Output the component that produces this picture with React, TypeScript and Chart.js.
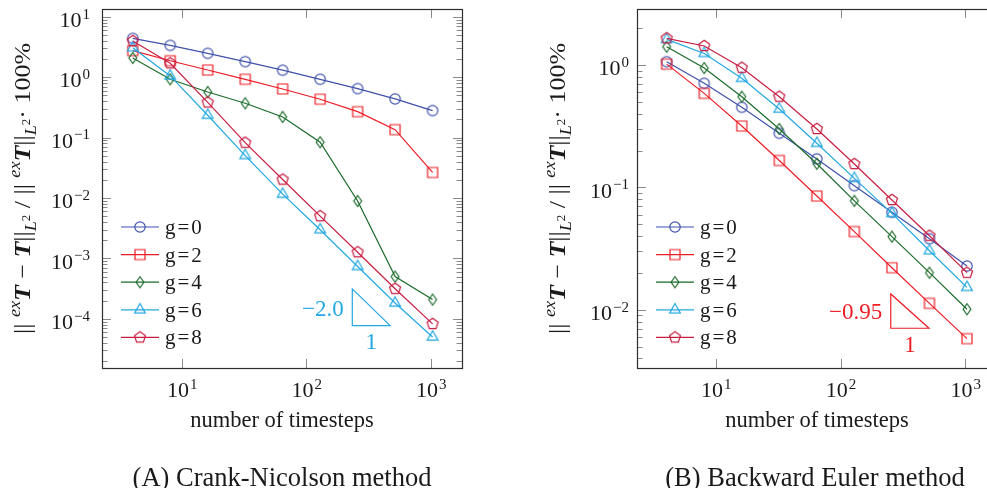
import React, { useEffect, useRef } from 'react';
import { Chart, registerables } from 'chart.js';

Chart.register(...registerables);

const FONT = "'Liberation Serif', 'Times New Roman', Times, serif";
const TEXT = '#1a1a1a';

// ---------- data ----------
const timesteps = [4, 8, 16, 32, 64, 128, 256, 512, 1024];
const seriesLabels = ['g=0', 'g=2', 'g=4', 'g=6', 'g=8'];
const seriesColors = ['#3f51ab', '#ee1d25', '#1b6b2a', '#22a8e2', '#c81e42'];
const seriesMarkers = ['circle', 'square', 'diamond', 'triangle', 'pentagon'];

// (A) Crank-Nicolson
const cnG0 = [4.48, 3.43, 2.53, 1.84, 1.33, 0.94, 0.66, 0.445, 0.285];
const cnG2 = [2.8, 1.91, 1.34, 0.94, 0.65, 0.44, 0.274, 0.138, 0.027];
const cnG4 = [2.12, 0.94, 0.58, 0.377, 0.224, 0.0855, 0.0091, 0.00051, 0.000212];
const cnG6 = [3.13, 1.07, 0.239, 0.0514, 0.0118, 0.00304, 0.00075, 0.000186, 0.000051];
const cnG8 = [4.04, 1.73, 0.39, 0.084, 0.0206, 0.0051, 0.00129, 0.00032, 0.000084];

// (B) Backward Euler
const beG0 = [1.078, 0.718, 0.457, 0.28, 0.173, 0.1045, 0.0633, 0.0385, 0.023];
const beG2 = [1.03, 0.594, 0.321, 0.168, 0.086, 0.044, 0.0223, 0.0114, 0.00586];
const beG4 = [1.43, 0.957, 0.558, 0.304, 0.158, 0.0785, 0.04, 0.0203, 0.0102];
const beG6 = [1.64, 1.26, 0.789, 0.442, 0.232, 0.12, 0.062, 0.0307, 0.0154];
const beG8 = [1.675, 1.45, 0.963, 0.558, 0.304, 0.157, 0.0798, 0.0407, 0.0203];

// tick labels (powers of ten)
const xTickExponents = [1, 2, 3];
const cnYTickExponents = [1, 0, -1, -2, -3, -4];
const beYTickExponents = [0, -1, -2];

// slope triangles
const cnSlopeX = [232, 467];
const cnSlopeY = [3.19e-4, 7.87e-5];
const cnSlopeLabel = '\u22122.0';
const beSlopeX = [250.6, 508];
const beSlopeY = [0.0136, 0.00713];
const beSlopeLabel = '\u22120.95';

const xAxisTitle = 'number of timesteps';
const cnCaption = '(A) Crank-Nicolson method';
const beCaption = '(B) Backward Euler method';

// ---------- helpers ----------
function makeMarker(kind: string, color: string): HTMLCanvasElement {
  const c = document.createElement('canvas');
  const S = 18;
  c.width = S;
  c.height = S;
  const g = c.getContext('2d')!;
  g.strokeStyle = color;
  g.lineWidth = 1.2;
  const cx = S / 2;
  const cy = S / 2;
  g.beginPath();
  if (kind === 'circle') {
    g.arc(cx, cy, 5.2, 0, Math.PI * 2);
  } else if (kind === 'square') {
    g.rect(cx - 5, cy - 5, 10, 10);
  } else if (kind === 'diamond') {
    g.moveTo(cx, cy - 5.5);
    g.lineTo(cx + 3.9, cy);
    g.lineTo(cx, cy + 5.5);
    g.lineTo(cx - 3.9, cy);
    g.closePath();
  } else if (kind === 'triangle') {
    const r = 6.2;
    for (let k = 0; k < 3; k++) {
      const a = -Math.PI / 2 + (k * 2 * Math.PI) / 3;
      const px = cx + r * Math.cos(a);
      const py = cy + r * Math.sin(a);
      if (k === 0) g.moveTo(px, py);
      else g.lineTo(px, py);
    }
    g.closePath();
  } else {
    const r = 5.8;
    for (let k = 0; k < 5; k++) {
      const a = -Math.PI / 2 + (k * 2 * Math.PI) / 5;
      const px = cx + r * Math.cos(a);
      const py = cy + r * Math.sin(a);
      if (k === 0) g.moveTo(px, py);
      else g.lineTo(px, py);
    }
    g.closePath();
  }
  g.stroke();
  return c;
}

function drawPow(ctx: CanvasRenderingContext2D, exp: number, x: number, y: number, align: 'center' | 'right') {
  const size = 22;
  const ss = 15;
  const base = '10';
  const sup = exp < 0 ? '\u2212' + Math.abs(exp) : String(exp);
  ctx.font = `${size}px ${FONT}`;
  const wb = ctx.measureText(base).width;
  ctx.font = `${ss}px ${FONT}`;
  const ws = ctx.measureText(sup).width;
  const total = wb + 1 + ws;
  const x0 = align === 'center' ? x - total / 2 : x - total;
  ctx.textAlign = 'left';
  ctx.textBaseline = 'alphabetic';
  ctx.font = `${size}px ${FONT}`;
  ctx.fillText(base, x0, y);
  ctx.font = `${ss}px ${FONT}`;
  ctx.fillText(sup, x0 + wb + 1, y - 8.5);
}

type Seg = { t: string; st?: string; s?: number; dy?: number };
const yTitleSegs: Seg[] = [
  { t: '|| ' },
  { t: 'ex', st: 'italic', s: 0.7, dy: -0.42 },
  { t: 'T', st: 'italic bold' },
  { t: ' \u2212 ' },
  { t: 'T', st: 'italic bold' },
  { t: '||' },
  { t: 'L', st: 'italic', s: 0.7, dy: 0.28 },
  { t: '2', s: 0.5, dy: 0.02 },
  { t: ' / || ' },
  { t: 'ex', st: 'italic', s: 0.7, dy: -0.42 },
  { t: 'T', st: 'italic bold' },
  { t: '||' },
  { t: 'L', st: 'italic', s: 0.7, dy: 0.28 },
  { t: '2', s: 0.5, dy: 0.02 },
  { t: '\u00b7 100%' },
];

function drawYTitle(ctx: CanvasRenderingContext2D, bx: number, cy: number) {
  const F = 23;
  const target = 291;
  const fontOf = (sg: Seg) => `${sg.st ? sg.st + ' ' : ''}${F * (sg.s || 1)}px ${FONT}`;
  let W = 0;
  const widths = yTitleSegs.map((sg) => {
    ctx.font = fontOf(sg);
    const w = ctx.measureText(sg.t).width;
    W += w;
    return w;
  });
  ctx.save();
  ctx.translate(bx, cy);
  ctx.rotate(-Math.PI / 2);
  ctx.scale(target / W, 1);
  ctx.fillStyle = TEXT;
  ctx.textAlign = 'left';
  ctx.textBaseline = 'alphabetic';
  let x = -W / 2;
  yTitleSegs.forEach((sg, i) => {
    ctx.font = fontOf(sg);
    ctx.fillText(sg.t, x, (sg.dy || 0) * F);
    x += widths[i];
  });
  ctx.restore();
}

type PanelCfg = {
  yTicks: number[];
  slopeX: number[];
  slopeY: number[];
  slopeLabel: string;
  slopeColor: string;
  caption: string;
  captionX: number;
  yLabelRight: number;
  yTitleX: number;
};

function decorPlugin(p: PanelCfg, markers: HTMLCanvasElement[]) {
  return {
    id: 'decor',
    afterDraw(chart: any) {
      const ctx: CanvasRenderingContext2D = chart.ctx;
      const ca = chart.chartArea;
      const xs = chart.scales.x;
      const ys = chart.scales.y;
      ctx.save();

      // ticks
      ctx.strokeStyle = '#8a8a8a';
      ctx.lineWidth = 1;
      ctx.beginPath();
      const e0 = Math.floor(Math.log10(ys.min));
      const e1 = Math.ceil(Math.log10(ys.max));
      for (let e = e0; e <= e1; e++) {
        for (let m = 1; m <= 9; m++) {
          const v = m * Math.pow(10, e);
          if (v < ys.min || v > ys.max) continue;
          const py = Math.round(ys.getPixelForValue(v) - 0.5) + 0.5;
          const len = m === 1 ? 9 : 5.5;
          ctx.moveTo(ca.left, py);
          ctx.lineTo(ca.left + len, py);
          ctx.moveTo(ca.right, py);
          ctx.lineTo(ca.right - len, py);
        }
      }
      xTickExponents.forEach((e) => {
        const px = Math.round(xs.getPixelForValue(Math.pow(10, e)) - 0.5) + 0.5;
        ctx.moveTo(px, ca.top);
        ctx.lineTo(px, ca.top + 9);
        ctx.moveTo(px, ca.bottom);
        ctx.lineTo(px, ca.bottom - 9);
      });
      ctx.stroke();

      // frame
      ctx.strokeStyle = '#2e2e2e';
      ctx.lineWidth = 1.2;
      ctx.strokeRect(ca.left + 0.5, ca.top + 0.5, ca.right - ca.left, ca.bottom - ca.top);

      // tick labels
      ctx.fillStyle = TEXT;
      p.yTicks.forEach((e) => {
        const py = ys.getPixelForValue(Math.pow(10, e));
        drawPow(ctx, e, p.yLabelRight, py + 9.8, 'right');
      });
      xTickExponents.forEach((e) => {
        const px = xs.getPixelForValue(Math.pow(10, e));
        drawPow(ctx, e, px, 397, 'center');
      });

      // legend
      const F = 21;
      chart.data.datasets.forEach((ds: any, i: number) => {
        const ry = ca.bottom - 141 + 27.6 * i;
        ctx.strokeStyle = ds.borderColor;
        ctx.lineWidth = 1.2;
        ctx.beginPath();
        ctx.moveTo(ca.left + 19, ry);
        ctx.lineTo(ca.left + 57, ry);
        ctx.stroke();
        const mk = markers[i];
        ctx.drawImage(mk, ca.left + 38 - mk.width / 2, ry - mk.height / 2);
        ctx.fillStyle = TEXT;
        ctx.font = `${F}px ${FONT}`;
        ctx.textAlign = 'left';
        ctx.textBaseline = 'alphabetic';
        const parts = String(ds.label).split('=');
        let tx = ca.left + 63;
        const by = ry + 7;
        ctx.fillText(parts[0], tx, by);
        tx += ctx.measureText(parts[0]).width + 2;
        ctx.fillText('=', tx, by);
        tx += ctx.measureText('=').width + 2;
        ctx.fillText(parts[1], tx, by);
      });

      // slope triangle
      const x0 = xs.getPixelForValue(p.slopeX[0]);
      const x1 = xs.getPixelForValue(p.slopeX[1]);
      const y0 = ys.getPixelForValue(p.slopeY[0]);
      const y1 = ys.getPixelForValue(p.slopeY[1]);
      ctx.strokeStyle = p.slopeColor;
      ctx.lineWidth = 1.2;
      ctx.beginPath();
      ctx.moveTo(x0, y0);
      ctx.lineTo(x0, y1);
      ctx.lineTo(x1, y1);
      ctx.closePath();
      ctx.stroke();
      ctx.fillStyle = p.slopeColor;
      ctx.font = `23px ${FONT}`;
      ctx.textAlign = 'right';
      ctx.fillText(p.slopeLabel, x0 - 8.5, (y0 + y1) / 2 + 8.3);
      ctx.textAlign = 'center';
      ctx.fillText('1', (x0 + x1) / 2, y1 + 23.8);

      // axis titles and caption
      ctx.fillStyle = TEXT;
      ctx.font = `22.5px ${FONT}`;
      ctx.textAlign = 'center';
      ctx.fillText(xAxisTitle, (ca.left + ca.right) / 2, 427);
      ctx.font = `26.5px ${FONT}`;
      ctx.fillText(p.caption, p.captionX, 486);
      drawYTitle(ctx, p.yTitleX, (ca.top + ca.bottom) / 2);

      ctx.restore();
    },
  };
}

function buildChart(
  canvas: HTMLCanvasElement,
  series: number[][],
  xMinExp: number,
  xMaxExp: number,
  yMinExp: number,
  yMaxExp: number,
  padding: { left: number; right: number; top: number; bottom: number },
  p: PanelCfg
) {
  const markers = seriesColors.map((c, i) => makeMarker(seriesMarkers[i], c));
  const datasets = series.map((vals, i) => ({
    label: seriesLabels[i],
    data: timesteps.map((x, j) => ({ x, y: vals[j] })),
    borderColor: seriesColors[i],
    backgroundColor: 'transparent',
    borderWidth: 1.2,
    pointStyle: markers[i],
    pointRadius: 5,
    pointHoverRadius: 5,
    fill: false,
    tension: 0,
    order: series.length - i,
  }));
  return new Chart(canvas, {
    type: 'line',
    data: { datasets },
    options: {
      responsive: false,
      animation: false,
      devicePixelRatio: 1,
      layout: { padding },
      plugins: { legend: { display: false }, tooltip: { enabled: false }, title: { display: false } },
      scales: {
        x: {
          type: 'logarithmic',
          display: false,
          bounds: 'data',
          min: Math.pow(10, xMinExp),
          max: Math.pow(10, xMaxExp),
        },
        y: {
          type: 'logarithmic',
          display: false,
          bounds: 'data',
          min: Math.pow(10, yMinExp),
          max: Math.pow(10, yMaxExp),
        },
      },
    } as any,
    plugins: [decorPlugin(p, markers)],
  });
}

export default function App() {
  const leftRef = useRef<HTMLCanvasElement>(null);
  const rightRef = useRef<HTMLCanvasElement>(null);

  useEffect(() => {
    const c1 = buildChart(
      leftRef.current!,
      [cnG0, cnG2, cnG4, cnG6, cnG8],
      0.355,
      3.2466,
      -4.806,
      1.137,
      { left: 102, right: 31, top: 9, bottom: 120 },
      {
        yTicks: cnYTickExponents,
        slopeX: cnSlopeX,
        slopeY: cnSlopeY,
        slopeLabel: cnSlopeLabel,
        slopeColor: seriesColors[3],
        caption: cnCaption,
        captionX: 282,
        yLabelRight: 90,
        yTitleX: 30,
      }
    );
    const c2 = buildChart(
      rightRef.current!,
      [beG0, beG2, beG4, beG6, beG8],
      0.364,
      3.251,
      -2.4718,
      0.4636,
      { left: 143, right: 17, top: 9, bottom: 120 },
      {
        yTicks: beYTickExponents,
        slopeX: beSlopeX,
        slopeY: beSlopeY,
        slopeLabel: beSlopeLabel,
        slopeColor: seriesColors[1],
        caption: beCaption,
        captionX: 321,
        yLabelRight: 135,
        yTitleX: 71,
      }
    );
    return () => {
      c1.destroy();
      c2.destroy();
    };
  }, []);

  return (
    <div
      style={{
        position: 'absolute',
        left: 0,
        top: 0,
        width: 987,
        height: 488,
        overflow: 'hidden',
        background: '#ffffff',
      }}
    >
      <canvas
        ref={leftRef}
        width={493}
        height={488}
        style={{ position: 'absolute', left: 0, top: 0, width: 493, height: 488 }}
      />
      <canvas
        ref={rightRef}
        width={520}
        height={488}
        style={{ position: 'absolute', left: 494, top: 0, width: 520, height: 488 }}
      />
    </div>
  );
}
